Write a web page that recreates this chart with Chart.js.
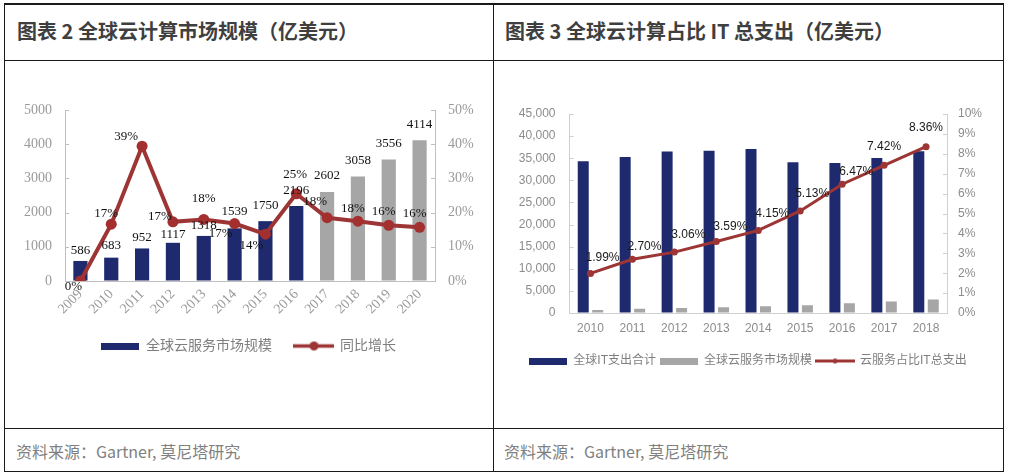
<!DOCTYPE html>
<html><head><meta charset="utf-8">
<script src="https://cdn.jsdelivr.net/npm/chart.js@4.4.0/dist/chart.umd.min.js"></script>
<style>
html,body{margin:0;padding:0;background:#fff;}
body{width:1009px;height:474px;overflow:hidden;position:relative;font-family:"Noto Sans CJK SC",sans-serif;}
.hl,.vl{position:absolute;background:#1a1a1a;}
.hl{height:1.6px;left:4px;width:1000px;}
.vl{width:1.6px;top:3px;height:469px;}
.title{position:absolute;top:17px;font-weight:bold;font-size:20px;color:#3f3f3f;line-height:28px;white-space:nowrap;}
.src{position:absolute;top:439px;font-size:16px;color:#808080;line-height:24px;white-space:nowrap;}
canvas{position:absolute;}
</style></head>
<body>
<div class="hl" style="top:3px"></div>
<div class="hl" style="top:59.5px"></div>
<div class="hl" style="top:427.5px"></div>
<div class="hl" style="top:470.5px"></div>
<div class="vl" style="left:3.5px"></div>
<div class="vl" style="left:492.5px"></div>
<div class="vl" style="left:1002.5px"></div>
<div class="title" style="left:17px">图表 2 全球云计算市场规模（亿美元）</div>
<div class="title" style="left:505px">图表 3 全球云计算占比 IT 总支出（亿美元）</div>
<div class="src" style="left:16px">资料来源：Gartner, 莫尼塔研究</div>
<div class="src" style="left:504px">资料来源：Gartner, 莫尼塔研究</div>
<canvas id="c1" width="487" height="366" style="left:5px;top:61px"></canvas>
<canvas id="c2" width="508" height="366" style="left:494px;top:61px"></canvas>
<script>
// ---------- DATA: chart 1 (全球云计算市场规模) ----------
const years1 = ['2009','2010','2011','2012','2013','2014','2015','2016','2017','2018','2019','2020'];
const cloudMarket1 = [586, 683, 952, 1117, 1318, 1539, 1750, 2196, 2602, 3058, 3556, 4114];
const yoyGrowth = [0, 16.6, 39.4, 17.3, 18.0, 16.8, 13.7, 25.5, 18.5, 17.5, 16.3, 15.7];
const yoyLabels = ['0%','17%','39%','17%','18%','17%','14%','25%','18%','18%','16%','16%'];
const firstForecastYear = '2017';
const leftTicks1 = [0, 1000, 2000, 3000, 4000, 5000];
const rightTicks1 = [0, 10, 20, 30, 40, 50];
const seriesNames1 = ['全球云服务市场规模', '同比增长'];

// ---------- DATA: chart 2 (全球云计算占比IT总支出) ----------
const years2 = ['2010','2011','2012','2013','2014','2015','2016','2017','2018'];
const itSpending = [34322, 35259, 36503, 36713, 37084, 34113, 33941, 35067, 36579];
const cloudMarket2 = [683, 952, 1117, 1318, 1539, 1750, 2196, 2602, 3058];
const cloudShare = [1.99, 2.70, 3.06, 3.59, 4.15, 5.13, 6.47, 7.42, 8.36];
const leftTicks2 = [0, 5000, 10000, 15000, 20000, 25000, 30000, 35000, 40000, 45000];
const rightTicks2 = [0, 1, 2, 3, 4, 5, 6, 7, 8, 9, 10];
const seriesNames2 = ['全球IT支出合计', '全球云服务市场规模', '云服务占比IT总支出'];

// ---------- STYLE ----------
const NAVY = '#1f2a6e', GREY = '#a6a6a6', RED = '#9d3535';
const SERIF = '"Liberation Serif","Noto Sans CJK SC",serif';
const SANS = '"Liberation Sans","Noto Sans CJK SC",sans-serif';
// label placement (pixels, relative to the mark)
const barLabelLift1 = [10, 12, 11, 8, 10, 17, 16, 15, 16, 16, 16, 16];
const lineLabelOffset1 = [[-7,6],[-5,-11],[-16,-10],[-13,-5],[0,-21],[-14,10],[-14,11],[-1,-19],[-12,-16],[-5,-13],[-5,-14],[-5,-14]];
const lineLabelOffset2 = [[12,-16],[12,-13],[14,-17],[14,-15],[14,-17],[12,-17],[14,-13],[0,-19],[0,-19]];

function rectIcon(w, h, color){
  const c = document.createElement('canvas'); c.width = w; c.height = h;
  const x = c.getContext('2d'); x.fillStyle = color; x.fillRect(0,0,w,h); return c;
}
function lineIcon(w, lw, r, color){
  const h = Math.max(2*r+2, lw+2);
  const c = document.createElement('canvas'); c.width = w; c.height = h;
  const x = c.getContext('2d'); x.strokeStyle = color; x.lineWidth = lw;
  x.beginPath(); x.moveTo(0,h/2); x.lineTo(w,h/2); x.stroke();
  x.fillStyle = color; x.beginPath(); x.arc(w/2,h/2,r,0,Math.PI*2); x.fill(); return c;
}

function inwardTicks(color, len){
  return { id:'inwardTicks', afterDatasetsDraw(chart){
    const ctx = chart.ctx, a = chart.chartArea; ctx.save();
    ctx.strokeStyle = color; ctx.lineWidth = 1;
    ['y','y1'].forEach(id=>{
      const s = chart.scales[id]; if(!s) return;
      const x = id==='y' ? a.left : a.right, dir = id==='y' ? 1 : -1;
      s.ticks.forEach((t,i)=>{
        const py = Math.round(s.getPixelForTick(i)) + 0.5;
        ctx.beginPath(); ctx.moveTo(x,py); ctx.lineTo(x+dir*len,py); ctx.stroke();
      });
    });
    ctx.restore();
  }};
}
function valueLabels(items){
  return { id:'valueLabels', afterDatasetsDraw(chart){
    const ctx = chart.ctx; ctx.save();
    ctx.textAlign = 'center'; ctx.textBaseline = 'middle';
    items.forEach(it=>{
      const meta = chart.getDatasetMeta(it.dataset);
      ctx.font = it.font; ctx.fillStyle = it.color;
      meta.data.forEach((el,i)=>{
        const o = it.offset(i);
        ctx.fillText(it.text[i], el.x + o[0], el.y + o[1]);
      });
    });
    ctx.restore();
  }};
}
function legendFrom(icons, color){
  return (chart)=> chart.data.datasets.map((ds,i)=>({
    text: ds.label, pointStyle: icons[i], fillStyle:'rgba(0,0,0,0)', strokeStyle:'rgba(0,0,0,0)',
    lineWidth:0, hidden:false, datasetIndex:i, fontColor: color
  }));
}

// ---------- CHART 1 ----------
const forecastIdx = years1.indexOf(firstForecastYear);
new Chart(document.getElementById('c1'), {
  type:'bar',
  data:{
    labels: years1,
    datasets:[
      { type:'bar', label: seriesNames1[0], data: cloudMarket1, yAxisID:'y', order:2,
        backgroundColor: years1.map((y,i)=> i>=forecastIdx ? GREY : NAVY),
        categoryPercentage:1, barPercentage:0.46 },
      { type:'line', label: seriesNames1[1], data: yoyGrowth, yAxisID:'y1', order:1,
        borderColor: RED, borderWidth:4, pointRadius:5.5, pointBackgroundColor:'#a32f2f',
        pointBorderColor:'#a32f2f', pointBorderWidth:0, tension:0 }
    ]
  },
  options:{
    responsive:false, animation:false,
    layout:{ padding:{ top:49, left:0, right:0, bottom:64 } },
    scales:{
      x:{ grid:{ display:true, drawOnChartArea:false, drawTicks:false },
          border:{ display:true, color:'#bfbfbf', width:1 },
          ticks:{ minRotation:45, maxRotation:45, autoSkip:false, padding:5, color:'#9a9a9a',
                  font:{ family:SERIF, size:14 } },
          afterFit(s){ s.height = 35; } },
      y:{ position:'left', min:leftTicks1[0], max:leftTicks1[leftTicks1.length-1],
          afterBuildTicks(s){ s.ticks = leftTicks1.map(v=>({value:v})); },
          grid:{ display:true, drawOnChartArea:false, drawTicks:false },
          border:{ display:true, color:'#bfbfbf', width:1 },
          ticks:{ padding:13, color:'#9a9a9a', font:{ family:SERIF, size:14 }, callback:v=>String(v) },
          afterFit(s){ s.width = 60; } },
      y1:{ position:'right', min:rightTicks1[0], max:rightTicks1[rightTicks1.length-1],
          afterBuildTicks(s){ s.ticks = rightTicks1.map(v=>({value:v})); },
          grid:{ display:true, drawOnChartArea:false, drawTicks:false },
          border:{ display:true, color:'#bfbfbf', width:1 },
          ticks:{ padding:13, color:'#9a9a9a', font:{ family:SERIF, size:14 }, callback:v=>v+'%' },
          afterFit(s){ s.width = 57; } }
    },
    plugins:{
      tooltip:{ enabled:false },
      legend:{ position:'bottom',
        labels:{ usePointStyle:true, pointStyleWidth:38, padding:23, color:'#7f7f7f',
          font:{ family:SERIF, size:14 },
          generateLabels: legendFrom([rectIcon(38,7,NAVY), lineIcon(41,3.5,4.5,RED)], '#7f7f7f') } }
    }
  },
  plugins:[ inwardTicks('#bfbfbf',4), valueLabels([
    { dataset:0, text: cloudMarket1.map(String), font:'13px '+SERIF, color:'#111', offset:i=>[0,-barLabelLift1[i]] },
    { dataset:1, text: yoyLabels, font:'13px '+SERIF, color:'#111', offset:i=>lineLabelOffset1[i] }
  ]) ]
});

// ---------- CHART 2 ----------
new Chart(document.getElementById('c2'), {
  type:'bar',
  data:{
    labels: years2,
    datasets:[
      { type:'bar', label: seriesNames2[0], data: itSpending, yAxisID:'y', order:2,
        backgroundColor: NAVY, categoryPercentage:0.69, barPercentage:0.76 },
      { type:'bar', label: seriesNames2[1], data: cloudMarket2, yAxisID:'y', order:2,
        backgroundColor: GREY, categoryPercentage:0.69, barPercentage:0.76 },
      { type:'line', label: seriesNames2[2], data: cloudShare, yAxisID:'y1', order:1,
        borderColor: RED, borderWidth:3, pointRadius:3.5, pointBackgroundColor: RED,
        pointBorderWidth:0, tension:0 }
    ]
  },
  options:{
    responsive:false, animation:false,
    layout:{ padding:{ top:53, left:0, right:0, bottom:50 } },
    scales:{
      x:{ grid:{ display:true, drawOnChartArea:false, drawTicks:false },
          border:{ display:true, color:'#d0d0d0', width:1 },
          ticks:{ padding:8, color:'#8c8c8c', font:{ family:SANS, size:12 } },
          afterFit(s){ s.height = 38; } },
      y:{ position:'left', min:leftTicks2[0], max:leftTicks2[leftTicks2.length-1],
          afterBuildTicks(s){ s.ticks = leftTicks2.map(v=>({value:v})); },
          grid:{ display:true, drawOnChartArea:false, drawTicks:false },
          border:{ display:true, color:'#d0d0d0', width:1 },
          ticks:{ padding:14, color:'#8c8c8c', font:{ family:SANS, size:12 },
                  callback:v=>v.toLocaleString('en-US') },
          afterFit(s){ s.width = 75.5; } },
      y1:{ position:'right', min:rightTicks2[0], max:rightTicks2[rightTicks2.length-1],
          afterBuildTicks(s){ s.ticks = rightTicks2.map(v=>({value:v})); },
          grid:{ display:true, drawOnChartArea:false, drawTicks:false },
          border:{ display:true, color:'#d0d0d0', width:1 },
          ticks:{ padding:11, color:'#8c8c8c', font:{ family:SANS, size:12 }, callback:v=>v+'%' },
          afterFit(s){ s.width = 55; } }
    },
    plugins:{
      tooltip:{ enabled:false },
      legend:{ position:'bottom',
        labels:{ usePointStyle:true, pointStyleWidth:38, padding:4, color:'#7f7f7f',
          font:{ family:SANS, size:12 },
          generateLabels: legendFrom([rectIcon(38,7,NAVY), rectIcon(38,7,GREY), lineIcon(40,3,2.5,RED)], '#7f7f7f') } }
    }
  },
  plugins:[ inwardTicks('#d0d0d0',4), valueLabels([
    { dataset:2, text: cloudShare.map(v=>v.toFixed(2)+'%'), font:'12px '+SANS, color:'#1a1a1a', offset:i=>lineLabelOffset2[i] }
  ]) ]
});
</script>
</body></html>
